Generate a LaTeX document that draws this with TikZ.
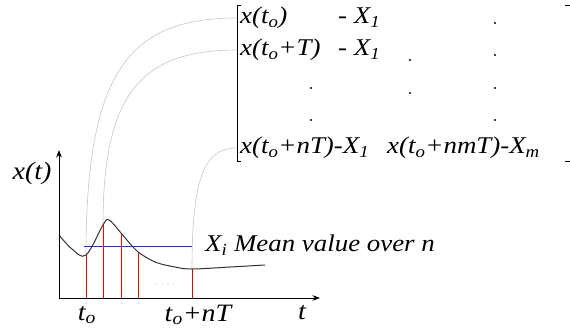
\documentclass[tikz,border=0pt]{standalone}
\usepackage{fontspec}
\setmainfont{Liberation Serif}[FakeStretch=1.12]
\usetikzlibrary{arrows.meta, positioning, calc}
\tikzset{
	entry/.style={anchor=west, inner sep=0pt, font=\fontsize{24}{28}\selectfont\itshape},
	axislabel/.style={inner sep=0pt, font=\fontsize{25}{28}\selectfont\itshape},
	linkline/.style={draw=gray!45, line width=0.6pt},
	sampleline/.style={draw=red, line width=0.8pt},
	meanline/.style={draw=blue!85, line width=0.9pt},
	axisarr/.style={->, line width=1pt, >=Stealth},
}
\newcommand{\lsub}[1]{\textsubscript{#1}}

\begin{document}
\begin{tikzpicture}[x=1pt, y=-1pt, >=Stealth]
	\useasboundingbox (0,0) rectangle (570,333);
	\coordinate (o) at (59,298);
	\coordinate (p0) at (86,255);
	\coordinate (p1) at (103,225);
	\coordinate (p2) at (121,233);
	\coordinate (p3) at (138,252);
	\coordinate (pn) at (192,269);
	\coordinate (b1) at (237,18);
	\coordinate (b2) at (237,50);
	\coordinate (b5) at (237,148);
	% matrix of deviations
	\node[entry] (r1a) at (240,18) {x(t\lsub{o})};
	\node[entry] (r1b) at (338,18) {- X\lsub{1}};
	\node[entry] (r2a) at (240,50) {x(t\lsub{o}+T)};
	\node[entry] (r2b) at (338,50) {- X\lsub{1}};
	\node[entry] (r5a) at (240,148) {x(t\lsub{o}+nT)-X\lsub{1}};
	\node[entry] (r5b) at (387,148) {x(t\lsub{o}+nmT)-X\lsub{m}};
	\foreach \px/\py in {311/88, 311/120, 410/60, 410/93, 495/23, 495/55, 495/88, 495/120}
		\fill (\px,\py) circle (1.1);
	\draw[line width=0.8pt] (241,5) -| (237,161) -- (241,161);
	\draw[line width=0.8pt] (565,5) -| (571,161) -- (565,161);
	% links to the samples
	\draw[linkline] (b1) .. controls (130,18) and (86,70) .. (p0);
	\draw[linkline] (b2) .. controls (140,50) and (103,95) .. (p1);
	\draw[linkline] (b5) .. controls (205,148) and (192,175) .. (pn);
	% signal
	\draw[meanline] (84,246) coordinate (m0) -- (192,246) coordinate (m1);
	\foreach \p in {p0,p1,p2,p3,pn}
		\draw[sampleline] (\p) -- (\p |- o);
	\draw[line width=1pt, black!80] plot[smooth, tension=0.6] coordinates {(59,235) (72,249) (p0) (p1) (109,220) (p2) (132,246) (p3) (155,262) (175,267) (pn) (230,267) (265,265)};
	\foreach \px in {156,162,168,174}
		\fill[red!35] (\px,284) circle (0.6);
	\draw[axisarr] (o) -- (59,150) coordinate (ytip);
	\draw[axisarr] (o) -- (320,298) coordinate (xtip);
	\node[axislabel] (lx) at (32,173) {x(t)};
	\node[axislabel] (lt0) at (87,315) {t\lsub{o}};
	\node[axislabel] (ltn) at (198,315) {t\lsub{o}+nT};
	\node[axislabel] (lt) at (302,313) {t};
	\node[entry] (mean) at (205,245) {X\lsub{i} Mean value over n};
\end{tikzpicture}
\end{document}
